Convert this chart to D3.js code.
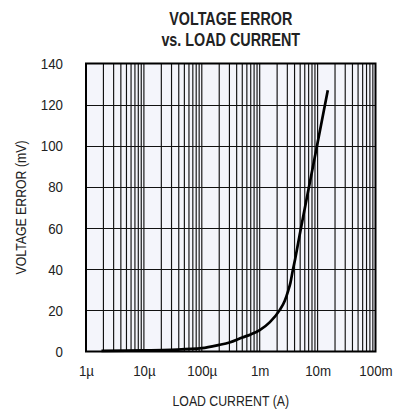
<!DOCTYPE html>
<html>
<head>
<meta charset="utf-8">
<script src="https://cdn.jsdelivr.net/npm/d3@7"></script>
<style>
  html, body { margin: 0; padding: 0; background: #ffffff; }
  svg { display: block; }
  text { font-family: "Liberation Sans", Arial, sans-serif; fill: #222; }
</style>
</head>
<body>
<svg id="chart" width="393" height="409"></svg>
<script>
// ---- data ----
const titleLines = ["VOLTAGE ERROR", "vs. LOAD CURRENT"];
const xLabel = "LOAD CURRENT (A)";
const yLabel = "VOLTAGE ERROR (mV)";
const xTickValues = [1e-6, 1e-5, 1e-4, 1e-3, 1e-2, 1e-1];
const xTickLabels = ["1\u00b5", "10\u00b5", "100\u00b5", "1m", "10m", "100m"];
const yTickValues = [0, 20, 40, 60, 80, 100, 120, 140];
const loadCurrent = [1.85e-6, 5e-6, 1e-5, 3e-5, 1e-4, 2e-4, 3e-4, 5e-4, 7e-4, 1e-3, 1.5e-3, 2.2e-3, 2.7e-3, 3.1e-3, 3.4e-3, 3.7e-3, 4.1e-3, 5e-3, 6e-3, 8e-3, 1e-2, 1.5e-2];
const voltageError = [0.3, 0.4, 0.55, 0.85, 1.6, 3.2, 4.4, 6.8, 8.3, 10.4, 14.3, 20, 24.5, 29.5, 33.5, 39, 45, 58, 69.5, 87.5, 101.5, 127];

// ---- layout ----
const W = 393, H = 409;
const m = { left: 86, right: 17.5, top: 63.5, bottom: 57.5 };
const NARROW = 0.82;
const svg = d3.select("#chart");

const x = d3.scaleLog().domain([1e-6, 1e-1]).range([m.left, W - m.right]);
const y = d3.scaleLinear().domain([0, 140]).range([H - m.bottom, m.top]);

// plot background
svg.append("rect")
  .attr("x", x.range()[0]).attr("y", y.range()[1])
  .attr("width", x.range()[1] - x.range()[0])
  .attr("height", y.range()[0] - y.range()[1])
  .attr("fill", "#f4f5fb");

// vertical grid (log ticks 1..9 per decade)
const minorTicks = x.ticks().filter(v => v > 1e-6 && v < 1e-1);
svg.append("g").selectAll("line").data(minorTicks).join("line")
  .attr("x1", d => x(d)).attr("x2", d => x(d))
  .attr("y1", y(0)).attr("y2", y(140))
  .attr("stroke", "#111").attr("stroke-width", 1.15);

// horizontal grid
svg.append("g").selectAll("line").data(yTickValues.filter(v => v > 0 && v < 140)).join("line")
  .attr("x1", x(1e-6)).attr("x2", x(1e-1))
  .attr("y1", d => Math.round(y(d)) + 0.5).attr("y2", d => Math.round(y(d)) + 0.5)
  .attr("stroke", "#111").attr("stroke-width", 1);

// curve
const pts = loadCurrent.map((c, i) => [c, voltageError[i]]);
svg.append("path")
  .datum(pts)
  .attr("d", d3.line().x(d => x(d[0])).y(d => y(d[1])).curve(d3.curveMonotoneX))
  .attr("fill", "none").attr("stroke", "#000").attr("stroke-width", 2.7)
  .attr("stroke-linecap", "butt");

// border
svg.append("rect")
  .attr("x", x.range()[0]).attr("y", y.range()[1])
  .attr("width", x.range()[1] - x.range()[0])
  .attr("height", y.range()[0] - y.range()[1])
  .attr("fill", "none").attr("stroke", "#000").attr("stroke-width", 2);

// y axis labels
const yPad = 23;
const yAxis = d3.axisLeft(y).tickValues(yTickValues).tickSize(0).tickPadding(yPad);
const gy = svg.append("g").attr("transform", `translate(${m.left},0)`).call(yAxis);
gy.select(".domain").remove();
gy.selectAll("text")
  .attr("font-size", 15.5).attr("fill", "#222")
  .attr("font-family", '"Liberation Sans", Arial, sans-serif')
  .attr("x", -yPad / 0.86)
  .attr("transform", "scale(0.86,1)");

// x axis labels
const xAxis = d3.axisBottom(x).tickValues(xTickValues).tickFormat((d, i) => xTickLabels[i]).tickSize(0).tickPadding(13.5);
const gx = svg.append("g").attr("transform", `translate(0,${H - m.bottom})`).call(xAxis);
gx.select(".domain").remove();
gx.selectAll("text")
  .attr("font-size", 15.5).attr("fill", "#222")
  .attr("font-family", '"Liberation Sans", Arial, sans-serif')
  .attr("transform", "scale(0.86,1)");

// helper: narrow text centred at (cx, baseline by)
function narrowText(cx, by, str, size, weight, rotate) {
  const g = svg.append("g").attr("transform", `translate(${cx},${by})` + (rotate ? ` rotate(${rotate})` : ""));
  g.append("text")
    .attr("transform", `scale(${NARROW},1)`)
    .attr("text-anchor", "middle")
    .attr("font-size", size)
    .attr("font-weight", weight || "normal")
    .attr("fill", weight === "bold" ? "#111" : "#222")
    .text(str);
}

const cxPlot = (x.range()[0] + x.range()[1]) / 2;
const cyPlot = (y.range()[0] + y.range()[1]) / 2;

// axis titles
narrowText(cxPlot, 406, xLabel, 15);
narrowText(25.5, cyPlot, yLabel, 15, "normal", -90);

// title
narrowText(cxPlot, 25, titleLines[0], 17.5, "bold");
narrowText(cxPlot, 46, titleLines[1], 17.5, "bold");
</script>
</body>
</html>
